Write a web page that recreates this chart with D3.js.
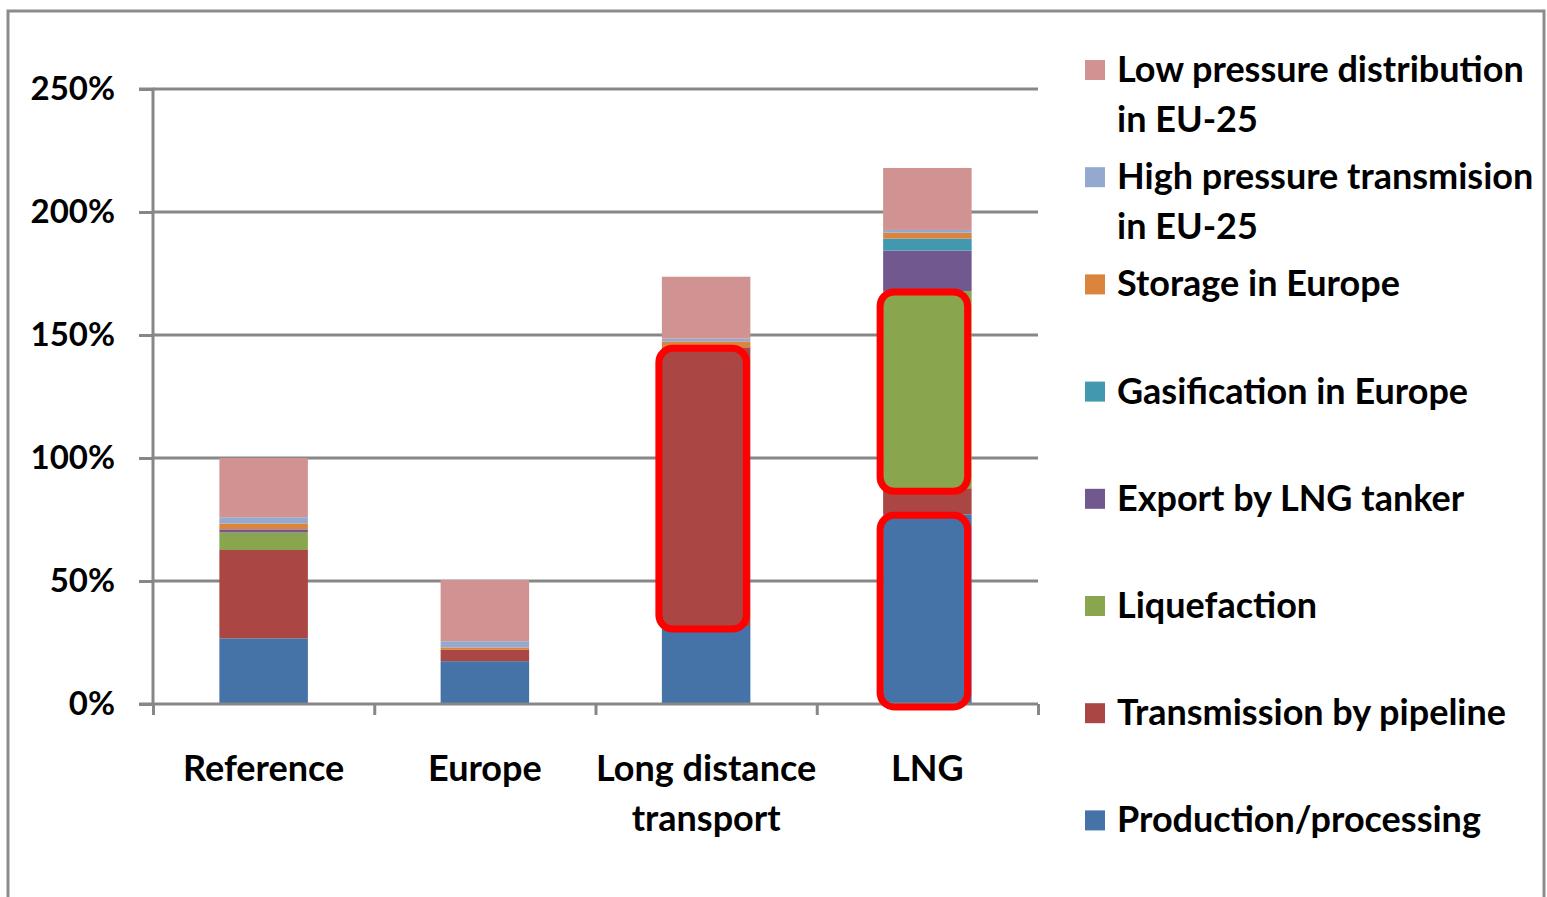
<!DOCTYPE html>
<html><head><meta charset="utf-8">
<script src="https://cdn.jsdelivr.net/npm/d3@7"></script>
<style>html,body{margin:0;padding:0;background:#fff;}svg{display:block;}</style>
</head><body>
<svg id="chart" width="1547" height="897"></svg>
<script>
const categories = [["Reference"], ["Europe"], ["Long distance", "transport"], ["LNG"]];
const seriesNames = ["Production/processing", "Transmission by pipeline", "Liquefaction", "Export by LNG tanker",
  "Gasification in Europe", "Storage in Europe", "High pressure transmision in EU-25", "Low pressure distribution in EU-25"];
const legendLines = [["Production/processing"], ["Transmission by pipeline"], ["Liquefaction"], ["Export by LNG tanker"],
  ["Gasification in Europe"], ["Storage in Europe"], ["High pressure transmision", "in EU-25"], ["Low pressure distribution", "in EU-25"]];
const colors = ["#4572A7", "#AA4643", "#89A54E", "#71588F", "#4198AF", "#DB843D", "#93A9CF", "#D19392"];
// values (%) per series, in category order
const production   = [26.7, 17.4, 31.7, 77.1];
const pipeline     = [35.9, 4.6, 113.3, 10.6];
const liquefaction = [7.1, 0, 0, 80.2];
const export_      = [1.3, 0, 0, 16.4];
const gasification = [0, 0, 0, 4.9];
const storage      = [2.4, 1.0, 2.4, 2.4];
const hpTrans      = [2.5, 2.5, 1.1, 1.1];
const lpDist       = [24.1, 24.9, 25.2, 25.2];
const yTicks = [0, 50, 100, 150, 200, 250];
// highlighted segments: [category index, series index]
const highlights = [[2, 1], [3, 2], [3, 0]];

(function () {
const series = [production, pipeline, liquefaction, export_, gasification, storage, hpTrans, lpDist];
const table = categories.map((c, i) => {
  const row = {cat: i};
  seriesNames.forEach((s, j) => row[s] = series[j][i]);
  return row;
});
const stack = d3.stack().keys(seriesNames)(table);

const svg = d3.select("#chart");
const FONT = "Lato, 'Open Sans', sans-serif";
const pL = 153, pR = 1038, pT = 89, pB = 704;

svg.append("rect").attr("x", 8).attr("y", 11).attr("width", 1536).attr("height", 900)
  .attr("fill", "none").attr("stroke", "#8c8c8c").attr("stroke-width", 3);

const x = d3.scaleBand().domain(d3.range(categories.length)).range([pL, pR]).paddingInner(0.6).paddingOuter(0.3);
const xOuter = d3.scaleLinear().domain([0, categories.length]).range([pL, pR]);
const y = d3.scaleLinear().domain([0, 250]).range([pB, pT]);

// gridlines
svg.append("g").selectAll("line").data(yTicks.filter(t => t > 0)).join("line")
  .attr("x1", pL).attr("x2", pR).attr("y1", d => y(d)).attr("y2", d => y(d))
  .attr("stroke", "#878787").attr("stroke-width", 3);

// bars
svg.append("g").selectAll("g").data(stack).join("g")
  .attr("fill", (d, i) => colors[i])
  .selectAll("rect").data(d => d).join("rect")
  .attr("x", d => x(d.data.cat)).attr("width", x.bandwidth())
  .attr("y", d => y(d[1])).attr("height", d => Math.max(0, y(d[0]) - y(d[1])));

// y axis
const yAxis = d3.axisLeft(y).tickValues(yTicks).tickSize(14).tickPadding(24).tickFormat(d => d + "%");
const gy = svg.append("g").attr("transform", `translate(${pL},0)`).call(yAxis);
gy.select(".domain").attr("stroke", "#878787").attr("stroke-width", 3).attr("d", `M-14,${pT}H0V${pB}`);
gy.selectAll(".tick line").attr("stroke", "#878787").attr("stroke-width", 3);
gy.selectAll(".tick text").attr("font-family", FONT).attr("font-weight", "bold").attr("font-size", 33).attr("fill", "#000");

// x axis
const xAxis = d3.axisBottom(xOuter).tickValues(d3.range(categories.length + 1)).tickSize(11).tickFormat("");
const gx = svg.append("g").attr("transform", `translate(0,${pB})`).call(xAxis);
gx.select(".domain").attr("stroke", "#878787").attr("stroke-width", 3).attr("d", `M${pL - 14},0H${pR}`);
gx.selectAll(".tick line").attr("stroke", "#878787").attr("stroke-width", 3);

// category labels
const catG = svg.append("g");
categories.forEach((lines, i) => {
  const cx = x(i) + x.bandwidth() / 2;
  const t = catG.append("text").attr("x", cx).attr("y", 781)
    .attr("text-anchor", "middle").attr("font-family", FONT).attr("font-weight", "bold").attr("font-size", 36);
  lines.forEach((l, k) => t.append("tspan").attr("x", cx).attr("dy", k ? 50 : 0).text(l));
});

// highlight boxes
svg.append("g").selectAll("rect").data(highlights).join("rect")
  .attr("x", d => x(d[0]) - 3).attr("width", x.bandwidth() - 1)
  .attr("y", d => y(stack[d[1]][d[0]][1]) + 1)
  .attr("height", d => y(stack[d[1]][d[0]][0]) - y(stack[d[1]][d[0]][1]) + 2)
  .attr("rx", 14).attr("fill", "none").attr("stroke", "#ff0000").attr("stroke-width", 7);

// legend (reverse order, top = last series)
const legendG = svg.append("g");
const order = d3.range(seriesNames.length).reverse();
order.forEach((si, k) => {
  const cy = 70 + k * 107.2;
  legendG.append("rect").attr("x", 1085).attr("y", cy - 10).attr("width", 20).attr("height", 20).attr("fill", colors[si]);
  const t = legendG.append("text").attr("x", 1117).attr("y", cy + 12)
    .attr("font-family", FONT).attr("font-weight", "bold").attr("font-size", 36);
  legendLines[si].forEach((l, j) => t.append("tspan").attr("x", 1117).attr("dy", j ? 50 : 0).text(l));
});
})();
</script>
</body></html>
